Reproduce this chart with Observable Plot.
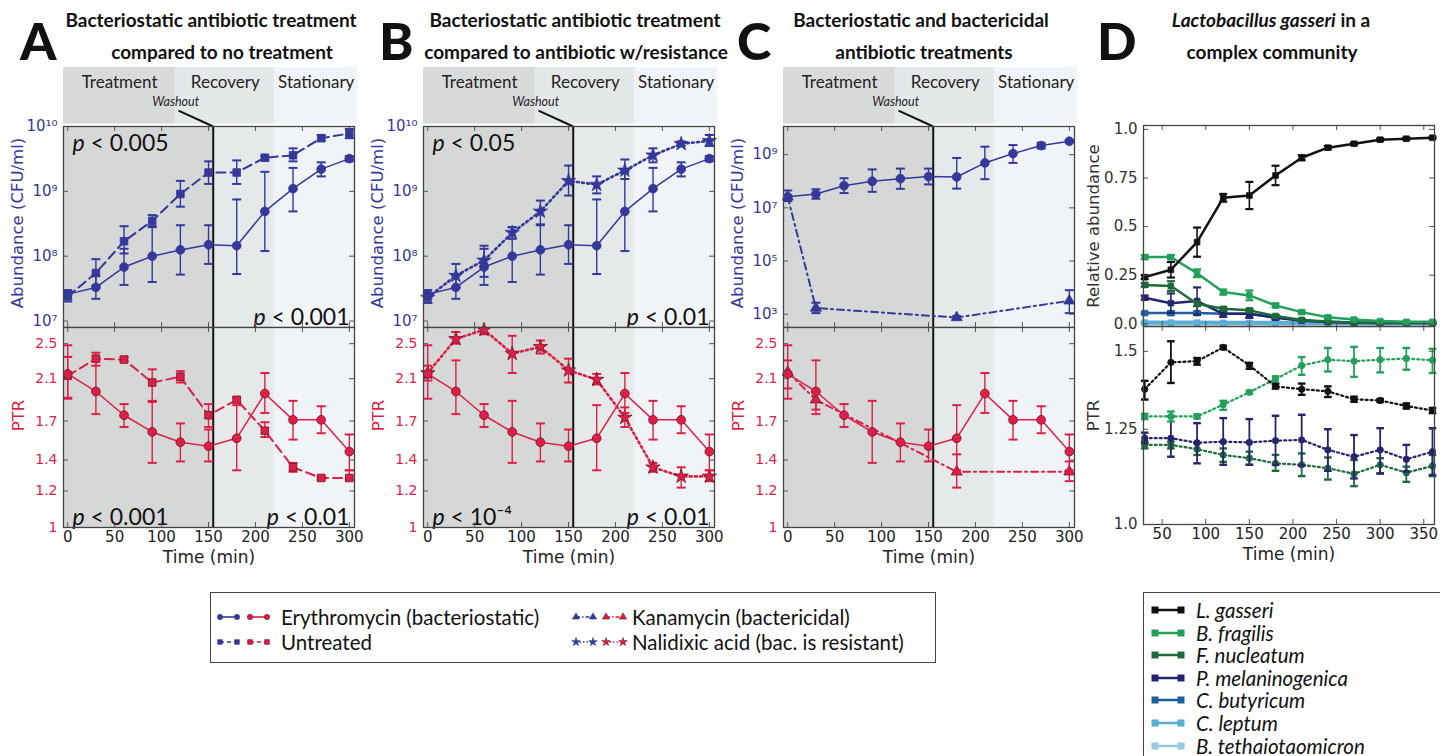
<!DOCTYPE html>
<html>
<head>
<meta charset="utf-8">
<script src="https://cdn.jsdelivr.net/npm/d3@7"></script>
<script src="https://cdn.jsdelivr.net/npm/@observablehq/plot@0.6"></script>
<style>
html,body{margin:0;padding:0;background:#fff;}
#root{position:relative;width:1440px;height:756px;overflow:hidden;background:#fff;}
.letter{position:absolute;font-family:Lato,sans-serif;font-weight:900;font-size:52px;line-height:1;color:#111;}
.title{position:absolute;font-family:Lato,sans-serif;font-weight:700;font-size:19px;line-height:1;color:#111;white-space:nowrap;transform:translateX(-50%);}
.legbox{position:absolute;border:1.5px solid #444;background:#fff;box-sizing:border-box;font-family:Lato,sans-serif;font-size:20.5px;color:#111;}
.legtxt{position:absolute;white-space:nowrap;line-height:1;transform:translateY(-50%);}
.legsw{position:absolute;transform:translateY(-50%);}
</style>
</head>
<body>
<div id="root"></div>
<script>
// ================= DATA =================
const phaseNames = ["Treatment", "Recovery", "Stationary"];
const headerBounds = [-4.5, 115, 220.7, 308.7];   // minutes (header band)
const shadeBounds = [-4.5, 155, 220, 305.5];       // minutes (plot background)
const washoutTime = 155;

const times = [0, 30, 60, 90, 120, 150, 180, 210, 240, 270, 300];

// Erythromycin (bacteriostatic)
const eryAbund   = [2.6e7, 3.3e7, 6.8e7, 1.0e8, 1.25e8, 1.5e8, 1.45e8, 4.9e8, 1.1e9, 2.2e9, 3.2e9];
const eryAbundLo = [2.2e7, 2.2e7, 3.6e7, 4.0e7, 5.2e7, 7.6e7, 5.3e7, 1.2e8, 4.9e8, 1.7e9, 2.9e9];
const eryAbundHi = [3.0e7, 5.0e7, 1.3e8, 2.8e8, 3.0e8, 3.0e8, 7.5e8, 2.0e9, 2.3e9, 2.8e9, 3.5e9];
const eryPTR     = [2.15, 1.97, 1.75, 1.61, 1.53, 1.50, 1.56, 1.95, 1.71, 1.71, 1.46];
const eryPTRLo   = [1.90, 1.76, 1.65, 1.38, 1.39, 1.39, 1.33, 1.77, 1.55, 1.60, 1.33];
const eryPTRHi   = [2.48, 2.30, 1.85, 1.88, 1.68, 1.63, 1.84, 2.16, 1.88, 1.83, 1.59];

// Untreated
const untAbund   = [2.4e7, 5.5e7, 1.7e8, 3.5e8, 9.1e8, 1.95e9, 1.95e9, 3.3e9, 3.6e9, 6.6e9, 7.8e9];
const untAbundLo = [2.0e7, 3.5e7, 1.1e8, 2.9e8, 5.8e8, 1.3e9, 1.3e9, 3.0e9, 2.9e9, 6.0e9, 6.6e9];
const untAbundHi = [2.8e7, 9.0e7, 2.9e8, 4.3e8, 1.45e9, 2.9e9, 3.0e9, 3.5e9, 4.6e9, 7.4e9, 9.2e9];
const untPTR     = [2.13, 2.32, 2.31, 2.06, 2.12, 1.75, 1.89, 1.62, 1.35, 1.28, 1.28];
const untPTRLo   = [1.91, 2.24, 2.29, 1.87, 2.06, 1.65, 1.87, 1.57, 1.32, 1.27, 1.27];
const untPTRHi   = [2.34, 2.39, 2.34, 2.20, 2.18, 1.85, 1.91, 1.69, 1.38, 1.29, 1.33];

// Nalidixic acid (bacterium is resistant)
const nalAbund   = [2.3e7, 5.0e7, 8.6e7, 2.3e8, 4.9e8, 1.45e9, 1.27e9, 2.1e9, 3.6e9, 5.4e9, 6.0e9];
const nalAbundLo = [1.9e7, 3.3e7, 4.8e7, 1.85e8, 3.1e8, 8.6e8, 9.3e8, 1.55e9, 2.8e9, 5.0e9, 5.0e9];
const nalAbundHi = [2.7e7, 7.6e7, 1.45e8, 2.8e8, 7.2e8, 2.5e9, 1.7e9, 3.1e9, 4.6e9, 5.9e9, 7.4e9];
const nalPTR     = [2.16, 2.56, 2.68, 2.38, 2.46, 2.19, 2.09, 1.73, 1.35, 1.29, 1.29];
const nalPTRLo   = [2.08, 2.50, 2.62, 2.16, 2.38, 2.06, 2.04, 1.65, 1.32, 1.22, 1.26];
const nalPTRHi   = [2.24, 2.65, 2.70, 2.60, 2.54, 2.32, 2.15, 1.82, 1.38, 1.35, 1.33];

// Kanamycin (bactericidal)
const kanTimes   = [0, 30, 180, 300];
const kanAbund   = [2.6e7, 1.7e3, 7.5e2, 3.2e3];
const kanAbundLo = [1.8e7, 1.1e3, 6.5e2, 1.1e3];
const kanAbundHi = [4.5e7, 2.7e3, 8.5e2, 8.0e3];
const kanPTR     = [2.17, 1.89, 1.32, 1.32];
const kanPTRLo   = [2.00, 1.80, 1.22, 1.26];
const kanPTRHi   = [2.30, 1.97, 1.44, 1.39];

// Panel D: complex community
const dTimes = [30, 60, 90, 120, 150, 180, 210, 240, 270, 300, 330, 360];
const speciesNames = ["L. gasseri", "B. fragilis", "F. nucleatum", "P. melaninogenica", "C. butyricum", "C. leptum", "B. tethaiotaomicron"];
const relGasseri     = [0.24, 0.278, 0.42, 0.648, 0.66, 0.763, 0.854, 0.906, 0.926, 0.947, 0.952, 0.957];
const relGasseriErr  = [0.01, 0.04, 0.075, 0.02, 0.07, 0.05, 0.013, 0.008, 0.006, 0.006, 0.005, 0.005];
const relFragilis    = [0.343, 0.343, 0.26, 0.163, 0.146, 0.094, 0.06, 0.034, 0.022, 0.014, 0.01, 0.01];
const relFragilisErr = [0.01, 0.01, 0.02, 0.013, 0.025, 0.01, 0.008, 0.005, 0.004, 0.003, 0.003, 0.003];
const relNucleatum   = [0.2, 0.194, 0.103, 0.077, 0.069, 0.04, 0.02, 0.012, 0.007, 0.005, 0.005, 0.005];
const relNucleatumErr= [0.01, 0.025, 0.012, 0.008, 0.008, 0.005, 0.004, 0.003, 0.002, 0.002, 0.002, 0.002];
const relMelanino    = [0.134, 0.106, 0.117, 0.051, 0.051, 0.031, 0.017, 0.009, 0.005, 0.004, 0.004, 0.004];
const relMelaninoErr = [0.01, 0.05, 0.07, 0.015, 0.02, 0.01, 0.005, 0.003, 0.002, 0.002, 0.002, 0.002];
const relButyricum   = [0.055, 0.055, 0.055, 0.051, 0.051, 0.034, 0.017, 0.01, 0.005, 0.004, 0.004, 0.004];
const relButyricumErr= [0.005, 0.01, 0.008, 0.015, 0.02, 0.01, 0.005, 0.003, 0.002, 0.002, 0.002, 0.002];
const relLeptum      = [0.006, 0.006, 0.006, 0.005, 0.005, 0.005, 0.004, 0.004, 0.003, 0.003, 0.003, 0.003];
const relTheta       = [0.002, 0.002, 0.002, 0.002, 0.002, 0.002, 0.002, 0.002, 0.002, 0.002, 0.002, 0.002];

const ptrGasseri     = [1.373, 1.462, 1.466, 1.514, 1.452, 1.382, 1.373, 1.366, 1.341, 1.337, 1.32, 1.306];
const ptrGasseriLo   = [1.34, 1.393, 1.454, 1.508, 1.44, 1.375, 1.355, 1.348, 1.333, 1.332, 1.312, 1.298];
const ptrGasseriHi   = [1.40, 1.536, 1.477, 1.52, 1.46, 1.39, 1.391, 1.382, 1.349, 1.342, 1.328, 1.314];
const ptrFragilis    = [1.288, 1.288, 1.288, 1.324, 1.363, 1.406, 1.451, 1.471, 1.466, 1.471, 1.475, 1.469];
const ptrFragilisLo  = [1.28, 1.273, 1.282, 1.308, 1.358, 1.393, 1.42, 1.431, 1.413, 1.428, 1.437, 1.426];
const ptrFragilisHi  = [1.296, 1.303, 1.294, 1.336, 1.368, 1.415, 1.48, 1.512, 1.516, 1.512, 1.512, 1.509];
const ptrMelanino    = [1.224, 1.224, 1.211, 1.214, 1.212, 1.217, 1.219, 1.191, 1.172, 1.191, 1.165, 1.186];
const ptrMelaninoLo  = [1.21, 1.172, 1.154, 1.15, 1.15, 1.15, 1.148, 1.134, 1.114, 1.127, 1.132, 1.123];
const ptrMelaninoHi  = [1.24, 1.288, 1.268, 1.283, 1.28, 1.29, 1.293, 1.25, 1.233, 1.253, 1.205, 1.253];
const ptrNucleatum   = [1.205, 1.205, 1.193, 1.177, 1.168, 1.154, 1.15, 1.141, 1.126, 1.15, 1.129, 1.147];
const ptrNucleatumLo = [1.195, 1.195, 1.177, 1.158, 1.15, 1.134, 1.12, 1.111, 1.094, 1.127, 1.105, 1.12];
const ptrNucleatumHi = [1.215, 1.214, 1.21, 1.195, 1.186, 1.177, 1.181, 1.17, 1.163, 1.168, 1.145, 1.177];

// Ticks
const timeTicks = [0, 50, 100, 150, 200, 250, 300];
const dTimeTicks = [50, 100, 150, 200, 250, 300, 350];
const abTicksAB = [1e7, 1e8, 1e9, 1e10];
const abLabelsAB = ["10⁷", "10⁸", "10⁹", "10¹⁰"];
const abTicksC = [1e3, 1e5, 1e7, 1e9];
const abLabelsC = ["10³", "10⁵", "10⁷", "10⁹"];
const ptrTicks = [1, 1.2, 1.4, 1.7, 2.1, 2.5];
const ptrLabels = ["1", "1.2", "1.4", "1.7", "2.1", "2.5"];
const relTicks = [0, 0.25, 0.5, 0.75, 1];
const relLabels = ["0.0", "0.25", "0.5", "0.75", "1.0"];
const dPtrTicks = [1, 1.25, 1.5];
const dPtrLabels = ["1.0", "1.25", "1.5"];

// ================= STYLES / LAYOUT =================
const BLUE = "#34389a", RED = "#dd1f48", REDEDGE = "#7a1024";
const headerColors = ["#d9dbdb", "#e5e8e8", "#f0f3f7"];
const shadeColors = ["#d6d8d7", "#e6e9e9", "#f1f4f7"];
const speciesColors = ["#111111", "#23a05b", "#1e6a3b", "#25246e", "#1e5fa0", "#5aaed6", "#96c8e4"];
const FW = 291;
const XD = [-4.5, 305.5];
const PX = FW / (XD[1] - XD[0]);
const root = document.getElementById("root");

function place(node, left, top) {
  node.style.position = "absolute";
  node.style.left = left + "px";
  node.style.top = top + "px";
  root.appendChild(node);
  return node;
}
const capSym = {draw(ctx, size) { const w = Math.sqrt(size / Math.PI); ctx.moveTo(-w, 0); ctx.lineTo(w, 0); }};
function rows(ts, v, lo, hi) { return ts.map((t, i) => ({t, v: v[i], lo: lo[i], hi: hi[i]})); }
function rowsErr(ts, v, e) { return ts.map((t, i) => ({t, v: v[i], lo: Math.max(0, v[i] - e[i]), hi: v[i] + e[i]})); }

const sty = {
  ery: {symbol: "circle", dash: null, lw: 1.5, r: 4.4, ldash: null},
  unt: {symbol: "square", dash: "9,5", lw: 2, r: 4.3, ldash: "4,3"},
  kan: {symbol: "triangle", dash: "7,4,2,4", lw: 2, r: 4.1, ldash: "4,2,1.5,2"},
  nal: {symbol: "star", dash: "2,3.2", lw: 2.6, r: 4.5, ldash: "1.5,2"}
};

function series(data, s, color, edge, opts = {}) {
  const ebw = opts.ebw ?? 1.4, cap = opts.cap ?? 4.5;
  return [
    Plot.ruleX(data, {x: "t", y1: "lo", y2: "hi", stroke: color, strokeWidth: ebw}),
    Plot.dot(data, {x: "t", y: "lo", symbol: capSym, r: cap, stroke: color, strokeWidth: ebw + 0.6, fill: "none"}),
    Plot.dot(data, {x: "t", y: "hi", symbol: capSym, r: cap, stroke: color, strokeWidth: ebw + 0.6, fill: "none"}),
    Plot.line(data, {x: "t", y: "v", stroke: color, strokeWidth: s.lw, strokeDasharray: s.dash}),
    Plot.dot(data, {x: "t", y: "v", symbol: s.symbol, r: s.r, fill: color, stroke: edge, strokeWidth: 0.8})
  ];
}

function pNote(txt, corner) {
  const left = corner.endsWith("left"), top = corner.startsWith("top");
  return Plot.text([txt], {text: d => d, frameAnchor: corner, textAnchor: left ? "start" : "end",
    lineAnchor: top ? "top" : "bottom", dx: left ? 9 : -5, dy: top ? 8 : -3,
    fontSize: 23, fontFamily: "Lato, sans-serif", fill: "#111"});
}

function subplot(o) {
  const ML = 64, MR = 4, MT = 4, MB = o.xLabels ? 50 : 4;
  const h = o.frameH;
  const xd = o.xDomain || XD;
  const marks = [];
  if (o.shade) {
    const sh = d3.pairs(shadeBounds).map(([a, b], i) => ({x1: a, x2: b, i}));
    marks.push(Plot.rect(sh, {x1: "x1", x2: "x2", fill: d => shadeColors[d.i]}));
    marks.push(Plot.ruleX([washoutTime], {x: d => d, stroke: "#111", strokeWidth: 2}));
  }
  marks.push(...o.marks);
  const tc = "#555", tl = 5;
  const ymap = new Map(o.yTicks.map((t, i) => [t, o.yLabels[i]]));
  marks.push(
    Plot.tickX(o.xTicks, {x: d => d, insetTop: h - tl, stroke: tc}),
    Plot.tickX(o.xTicks, {x: d => d, insetBottom: h - tl, stroke: tc}),
    Plot.tickY(o.yTicks, {y: d => d, insetRight: FW - tl, stroke: tc}),
    Plot.tickY(o.yTicks, {y: d => d, insetLeft: FW - tl, stroke: tc}),
    Plot.frame({stroke: "#444", strokeWidth: 1.3}),
    Plot.text(o.yTicks, {y: d => d, frameAnchor: "left", textAnchor: "end", dx: -6, text: d => ymap.get(d),
      fill: o.yColor, fontSize: o.yFont || 14.5}),
    Plot.text([o.yTitle], {text: d => d, frameAnchor: "left", dx: o.yTitleDx ?? -46, dy: o.yTitleDy || 0, rotate: -90,
      textAnchor: "middle", lineAnchor: "middle", fill: o.yColor, fontSize: 16.5})
  );
  if (o.xLabels) {
    marks.push(
      Plot.text(o.xTicks, {x: d => d, frameAnchor: "bottom", lineAnchor: "top", dy: 4, text: d => String(d), fontSize: 15, fill: "#222"}),
      Plot.text(["Time (min)"], {text: d => d, frameAnchor: "bottom", lineAnchor: "top", dy: 23, fontSize: 17, fill: "#222"})
    );
  }
  const svg = Plot.plot({
    width: ML + FW + MR, height: MT + h + MB,
    marginLeft: ML, marginRight: MR, marginTop: MT, marginBottom: MB,
    x: {domain: xd, axis: null},
    y: {type: o.yType, domain: o.yDomain, axis: null},
    color: {type: "identity"},
    style: {background: "transparent", overflow: "visible", fontFamily: "'DejaVu Sans', sans-serif"},
    marks
  });
  d3.select(svg).selectAll("text").each(function() {
    const s = this.textContent;
    if (s.startsWith("p <")) {
      this.textContent = "";
      d3.select(this).append("tspan").attr("font-style", "italic").text("p");
      d3.select(this).append("tspan").text(s.slice(1));
    }
  });
  place(svg, o.left - ML, o.top - MT);
}

function header(left) {
  const hd = [XD[0], headerBounds[3]];
  const W = Math.round((hd[1] - hd[0]) * PX);
  const ph = phaseNames.map((n, i) => ({name: n, x1: headerBounds[i], x2: headerBounds[i + 1], i}));
  const svg = Plot.plot({
    width: W, height: 59, margin: 0,
    x: {domain: hd, axis: null}, y: {domain: [0, 1], axis: null},
    color: {type: "identity"},
    style: {background: "transparent", overflow: "visible"},
    marks: [
      Plot.rect(ph, {x1: "x1", x2: "x2", y1: () => 0.04, y2: () => 1, fill: d => headerColors[d.i]}),
      Plot.text(ph, {x: d => (d.x1 + d.x2) / 2, y: () => 0.74, text: "name", fontSize: 17, fontFamily: "Lato, sans-serif", fill: "#222"}),
      Plot.text(["Washout"], {x: () => headerBounds[1], y: () => 0.42, text: d => d, fontStyle: "italic", fontSize: 12.5, fontFamily: "Lato, sans-serif", fill: "#222"}),
      Plot.link([0], {x1: () => headerBounds[1] + 3, y1: () => 0.27, x2: () => washoutTime, y2: () => 0, stroke: "#111", strokeWidth: 2})
    ]
  });
  place(svg, left, 67);
}

// ================= PANELS A, B, C =================
const panels = [
  {left: 63,
   top: [...series(rows(times, untAbund, untAbundLo, untAbundHi), sty.unt, BLUE, BLUE),
         ...series(rows(times, eryAbund, eryAbundLo, eryAbundHi), sty.ery, BLUE, BLUE),
         pNote("p < 0.005", "top-left"), pNote("p < 0.001", "bottom-right")],
   bottom: [...series(rows(times, untPTR, untPTRLo, untPTRHi), sty.unt, RED, REDEDGE),
            ...series(rows(times, eryPTR, eryPTRLo, eryPTRHi), sty.ery, RED, REDEDGE),
            pNote("p < 0.001", "bottom-left"), pNote("p < 0.01", "bottom-right")],
   yDomain: [Math.pow(10, 6.9), 1e10], yTicks: abTicksAB, yLabels: abLabelsAB},
  {left: 423,
   top: [...series(rows(times, nalAbund, nalAbundLo, nalAbundHi), sty.nal, BLUE, BLUE),
         ...series(rows(times, eryAbund, eryAbundLo, eryAbundHi), sty.ery, BLUE, BLUE),
         pNote("p < 0.05", "top-left"), pNote("p < 0.01", "bottom-right")],
   bottom: [...series(rows(times, nalPTR, nalPTRLo, nalPTRHi), sty.nal, RED, REDEDGE),
            ...series(rows(times, eryPTR, eryPTRLo, eryPTRHi), sty.ery, RED, REDEDGE),
            pNote("p < 10⁻⁴", "bottom-left"), pNote("p < 0.01", "bottom-right")],
   yDomain: [Math.pow(10, 6.9), 1e10], yTicks: abTicksAB, yLabels: abLabelsAB},
  {left: 783,
   top: [...series(rows(kanTimes, kanAbund, kanAbundLo, kanAbundHi), sty.kan, BLUE, BLUE),
         ...series(rows(times, eryAbund, eryAbundLo, eryAbundHi), sty.ery, BLUE, BLUE)],
   bottom: [...series(rows(kanTimes, kanPTR, kanPTRLo, kanPTRHi), sty.kan, RED, REDEDGE),
            ...series(rows(times, eryPTR, eryPTRLo, eryPTRHi), sty.ery, RED, REDEDGE)],
   yDomain: [Math.pow(10, 2.5), Math.pow(10, 10.06)], yTicks: abTicksC, yLabels: abLabelsC}
];

for (const p of panels) {
  header(p.left);
  subplot({left: p.left, top: 126, frameH: 201, shade: true, yType: "log", yDomain: p.yDomain,
    yTicks: p.yTicks, yLabels: p.yLabels, yColor: BLUE, yFont: 15, xTicks: timeTicks,
    yTitle: "Abundance (CFU/ml)", yTitleDy: -4, marks: p.top});
  subplot({left: p.left, top: 327, frameH: 200, shade: true, yType: "log", yDomain: [1, 2.71],
    yTicks: ptrTicks, yLabels: ptrLabels, yColor: RED, yFont: 14, xTicks: timeTicks, xLabels: true,
    yTitle: "PTR", yTitleDx: -45, yTitleDy: -12, marks: p.bottom});
}

// ================= PANEL D =================
const DXD = [28.6, 362.3];
const dRel = [
  [relTheta, relTheta.map(() => 0.001), 6],
  [relLeptum, relLeptum.map(() => 0.001), 5],
  [relButyricum, relButyricumErr, 4],
  [relMelanino, relMelaninoErr, 3],
  [relNucleatum, relNucleatumErr, 2],
  [relFragilis, relFragilisErr, 1],
  [relGasseri, relGasseriErr, 0]
];
const dTopMarks = [];
for (const [v, e, ci] of dRel) {
  const c = speciesColors[ci];
  dTopMarks.push(...series(rowsErr(dTimes, v, e), {symbol: "square", dash: null, lw: ci >= 5 ? 4 : 2.5, r: 3.2}, c, c, {ebw: 1.6, cap: 4}));
}
subplot({left: 1143, top: 125, frameH: 201, xDomain: DXD, yType: "linear", yDomain: [-0.014, 1.02],
  yTicks: relTicks, yLabels: relLabels, yColor: "#333", yFont: 15, xTicks: dTimeTicks,
  yTitle: "Relative abundance", yTitleDx: -50, marks: dTopMarks});

const dPtr = [
  [ptrNucleatum, ptrNucleatumLo, ptrNucleatumHi, 2],
  [ptrMelanino, ptrMelaninoLo, ptrMelaninoHi, 3],
  [ptrFragilis, ptrFragilisLo, ptrFragilisHi, 1],
  [ptrGasseri, ptrGasseriLo, ptrGasseriHi, 0]
];
const dBotMarks = [];
for (const [v, lo, hi, ci] of dPtr) {
  const c = speciesColors[ci];
  dBotMarks.push(...series(rows(dTimes, v, lo, hi), {symbol: "circle", dash: "2,3", lw: 2.2, r: 3.2}, c, c, {ebw: 1.8, cap: 3.8}));
}
subplot({left: 1143, top: 326, frameH: 198, xDomain: DXD, yType: "log", yDomain: [1, 1.59],
  yTicks: dPtrTicks, yLabels: dPtrLabels, yColor: "#333", yFont: 15, xTicks: dTimeTicks, xLabels: true,
  yTitle: "PTR", yTitleDx: -50, yTitleDy: -10, marks: dBotMarks});

// ================= TITLES =================
function addDiv(cls, html, left, top) {
  const d = document.createElement("div");
  d.className = cls; d.innerHTML = html;
  d.style.left = left + "px"; d.style.top = top + "px";
  root.appendChild(d); return d;
}
addDiv("letter", "A", 20, 14);
addDiv("letter", "B", 379, 14);
addDiv("letter", "C", 737, 14);
addDiv("letter", "D", 1097, 14);
const titles = [
  ["Bacteriostatic antibiotic treatment", "compared to no treatment", 211, 222],
  ["Bacteriostatic antibiotic treatment", "compared to antibiotic w/resistance", 575, 576],
  ["Bacteriostatic and bactericidal", "antibiotic treatments", 921, 924],
  ["<i>Lactobacillus gasseri</i> in a", "complex community", 1271, 1272]
];
for (const [l1, l2, x1, x2] of titles) {
  addDiv("title", l1, x1, 10);
  addDiv("title", l2, x2, 42);
}

// ================= LEGENDS =================
const symType = {circle: d3.symbolCircle, square: d3.symbolSquare, triangle: d3.symbolTriangle, star: d3.symbolStar};
function swatchPair(s) {
  const svg = d3.create("svg").attr("width", 58).attr("height", 14);
  [[BLUE, BLUE, 0], [RED, REDEDGE, 30]].forEach(([c, e, ox]) => {
    svg.append("line").attr("x1", ox + 5).attr("x2", ox + 22).attr("y1", 7).attr("y2", 7)
      .attr("stroke", c).attr("stroke-width", 1.6).attr("stroke-dasharray", s.ldash);
    [ox + 5, ox + 22].forEach(x => svg.append("path").attr("d", d3.symbol(symType[s.symbol], 22)())
      .attr("transform", `translate(${x},7)`).attr("fill", c).attr("stroke", e).attr("stroke-width", 0.6));
  });
  return svg.node();
}
const leg1 = addDiv("legbox", "", 210, 592);
leg1.style.width = "726px"; leg1.style.height = "71px";
const leg1Entries = [
  ["Erythromycin (bacteriostatic)", sty.ery, 0, 0],
  ["Untreated", sty.unt, 0, 1],
  ["Kanamycin (bactericidal)", sty.kan, 1, 0],
  ["Nalidixic acid (bac. is resistant)", sty.nal, 1, 1]
];
for (const [name, s, col, row] of leg1Entries) {
  const y = 24 + row * 25;
  const sw = swatchPair(s); sw.classList.add("legsw");
  sw.style.left = (col ? 360 : 4) + "px"; sw.style.top = y + "px";
  leg1.appendChild(sw);
  const t = document.createElement("div"); t.className = "legtxt"; t.textContent = name;
  t.style.left = (col ? 421 : 70) + "px"; t.style.top = y + "px";
  leg1.appendChild(t);
}

const leg2 = addDiv("legbox", "", 1143, 592);
leg2.style.width = "320px"; leg2.style.height = "190px";
speciesNames.forEach((name, i) => {
  const y = 17 + i * 22.6;
  const svg = d3.create("svg").attr("width", 34).attr("height", 10);
  svg.append("line").attr("x1", 4).attr("x2", 30).attr("y1", 5).attr("y2", 5).attr("stroke", speciesColors[i]).attr("stroke-width", 2.5);
  [4, 30].forEach(x => svg.append("rect").attr("x", x - 3.5).attr("y", 1.5).attr("width", 7).attr("height", 7).attr("fill", speciesColors[i]));
  const n = svg.node(); n.classList.add("legsw"); n.style.left = "7px"; n.style.top = y + "px";
  leg2.appendChild(n);
  const t = document.createElement("div"); t.className = "legtxt"; t.style.fontStyle = "italic";
  t.textContent = name; t.style.left = "52px"; t.style.top = y + "px";
  leg2.appendChild(t);
});
</script>
</body>
</html>
